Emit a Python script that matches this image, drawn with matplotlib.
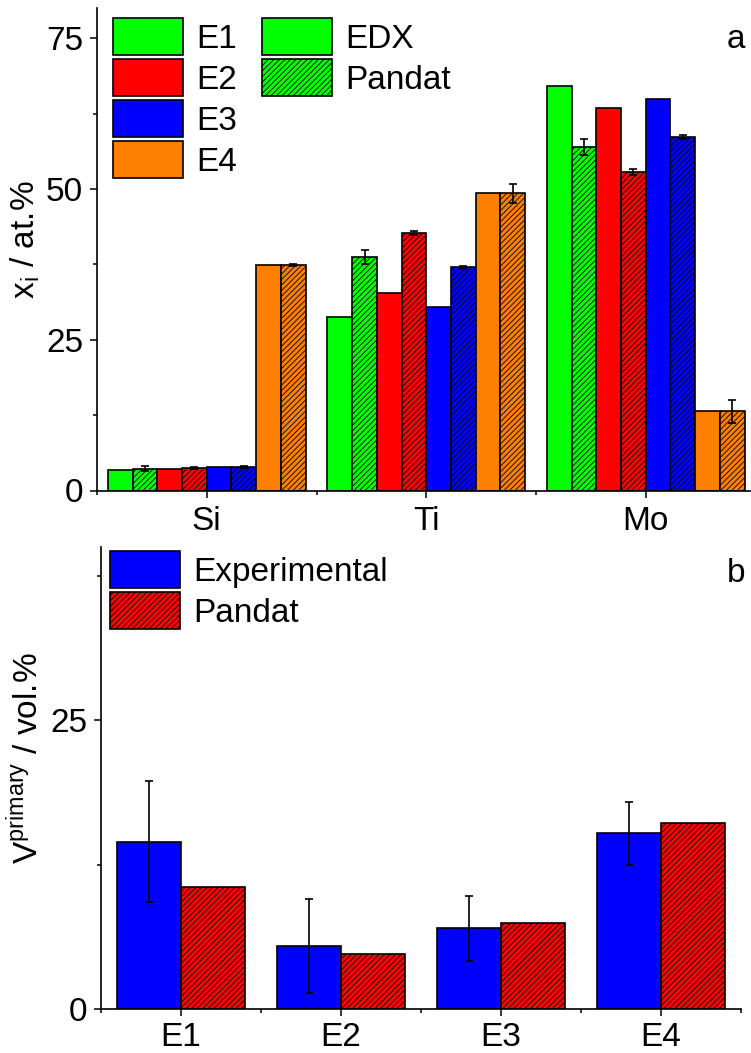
import numpy as np
import matplotlib
matplotlib.use("Agg")
import matplotlib.pyplot as plt
import matplotlib.patches as mpatches
from matplotlib.ticker import MultipleLocator

plt.rcParams["font.family"] = ["Liberation Sans", "DejaVu Sans"]
plt.rcParams["mathtext.fontset"] = "custom"
plt.rcParams["mathtext.rm"] = "Liberation Sans"
plt.rcParams["hatch.linewidth"] = 0.6

# ---- (a) composition of the primary phase ----
elements = ["Si", "Ti", "Mo"]
alloys = ["E1", "E2", "E3", "E4"]
colors = ["#00ff00", "#ff0000", "#0000ff", "#ff8000"]

# rows: alloy E1..E4, columns: Si, Ti, Mo
edx = [
    [3.45, 28.7, 67.0],
    [3.55, 32.7, 63.5],
    [3.9, 30.4, 64.9],
    [37.4, 49.3, 13.1],
]
pandat = [
    [3.6, 38.7, 56.9],
    [3.7, 42.7, 52.8],
    [3.9, 37.0, 58.6],
    [37.4, 49.3, 13.1],
]
pandat_err = [
    [0.4, 1.1, 1.3],
    [0.2, 0.4, 0.5],
    [0.1, 0.3, 0.3],
    [0.2, 1.6, 1.85],
]

# ---- (b) primary phase fraction ----
vol_exp = [14.5, 5.46, 6.97, 15.2]
vol_exp_err = [5.2, 4.05, 2.85, 2.75]
vol_pandat = [10.6, 4.73, 7.46, 16.1]

W, H = 751, 1053
FS = 24
HATCH = "//////"
LEG = dict(frameon=False, fontsize=FS, borderpad=0, borderaxespad=0,
           handlelength=2.1, handleheight=1.33, handletextpad=0.4, labelspacing=0.12)

fig = plt.figure(figsize=(W / 100, H / 100), dpi=100)


def px_axes(left, right, top, bottom):
    return fig.add_axes([left / W, 1 - bottom / H, (right - left) / W, (bottom - top) / H])


def style(ax, xpad=6):
    for s in ("top", "right"):
        ax.spines[s].set_visible(False)
    for s in ("left", "bottom"):
        ax.spines[s].set_linewidth(1.2)
    ax.tick_params(which="major", direction="out", length=5, width=1.1,
                   labelsize=FS, pad=5)
    ax.tick_params(which="minor", direction="out", length=3, width=1.1)
    ax.tick_params(axis="x", which="major", pad=xpad)


# top panel
ax1 = px_axes(97, 755.5, 8, 490.5)
x = np.arange(1, len(elements) + 1)
w = 0.1125
for i, a in enumerate(alloys):
    off_edx = (2 * i - 3.5) * w
    off_pan = (2 * i + 1 - 3.5) * w
    ax1.bar(x + off_edx, edx[i], w, color=colors[i], edgecolor="black", linewidth=1.2)
    ax1.bar(x + off_pan, pandat[i], w, color=colors[i], edgecolor="black", linewidth=1.2,
            hatch=HATCH)
    ax1.errorbar(x + off_pan, pandat[i], yerr=pandat_err[i], fmt="none", ecolor="black",
                 elinewidth=1.2, capsize=3, capthick=1.2)

ax1.set_xlim(0.5, 3.5)
ax1.set_ylim(0, 80)
ax1.set_xticks(x)
ax1.set_xticklabels(elements)
ax1.xaxis.set_minor_locator(MultipleLocator(0.5))
ax1.yaxis.set_major_locator(MultipleLocator(25))
ax1.yaxis.set_minor_locator(MultipleLocator(12.5))
style(ax1)
ax1.set_ylabel(r"x$_\mathregular{i}$ / at.%", fontsize=FS, labelpad=3, y=0.52)

handles = [mpatches.Patch(facecolor=c, edgecolor="black", linewidth=1.2) for c in colors]
labels = list(alloys)
handles += [
    mpatches.Patch(facecolor=colors[0], edgecolor="black", linewidth=1.2),
    mpatches.Patch(facecolor=colors[0], edgecolor="black", linewidth=1.2, hatch=HATCH),
]
labels += ["EDX", "Pandat"]
# pad with invisible entries so the second column holds EDX / Pandat
blank = mpatches.Patch(visible=False)
handles += [blank, blank]
labels += ["", ""]
ax1.legend(handles, labels, ncol=2, loc="upper left", bbox_to_anchor=(0.024, 0.979),
           columnspacing=0.75, **LEG)
ax1.text(745, H - 40, "a", transform=None, fontsize=FS, ha="right", va="center")

# bottom panel
ax2 = px_axes(101, 741, 547, 1009)
xb = np.arange(1, len(alloys) + 1)
wb = 0.4
ax2.bar(xb - wb / 2, vol_exp, wb, color="#0000ff", edgecolor="black", linewidth=1.2,
        label="Experimental")
ax2.bar(xb + wb / 2, vol_pandat, wb, color="#ff0000", edgecolor="black", linewidth=1.2,
        hatch=HATCH, label="Pandat")
ax2.errorbar(xb - wb / 2, vol_exp, yerr=vol_exp_err, fmt="none", ecolor="black",
             elinewidth=1.2, capsize=3, capthick=1.2)
ax2.set_xlim(0.5, 4.5)
ax2.set_ylim(0, 40)
ax2.set_xticks(xb)
ax2.set_xticklabels(alloys)
ax2.xaxis.set_minor_locator(MultipleLocator(0.5))
ax2.yaxis.set_major_locator(MultipleLocator(25))
ax2.yaxis.set_minor_locator(MultipleLocator(12.5))
style(ax2, xpad=4)
ax2.set_ylabel(r"V$^\mathregular{primary}$ / vol.%", fontsize=FS, labelpad=4, y=0.543)
ax2.legend(loc="upper left", bbox_to_anchor=(0.014, 0.991), **LEG)
ax2.text(745, H - 573, "b", transform=None, fontsize=FS, ha="right", va="center")

plt.savefig("out.png", dpi=100)
